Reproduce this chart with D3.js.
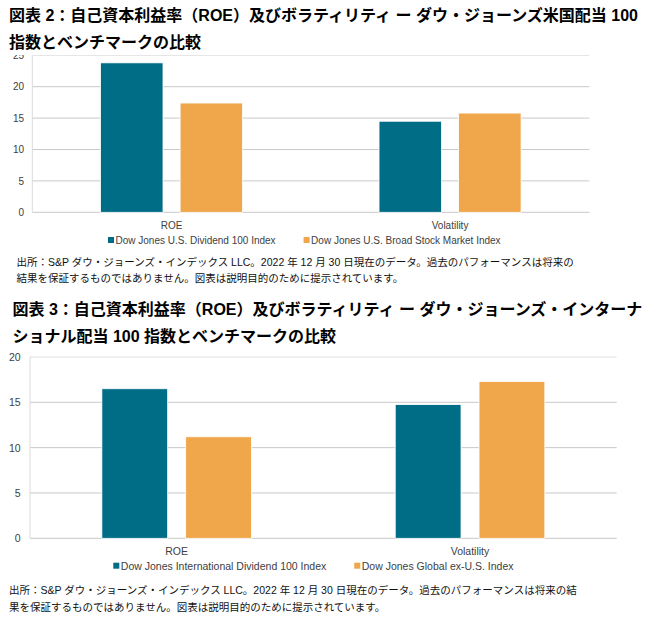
<!DOCTYPE html>
<html>
<head>
<meta charset="utf-8">
<script src="https://cdn.jsdelivr.net/npm/d3@7"></script>
<style>
  body { margin: 0; background: #fff; }
  text { font-family: "Liberation Sans", Arial, "Noto Sans CJK JP", sans-serif; }
  .ttl { font-weight: bold; font-size: 16px; fill: #000; }
  .note { font-size: 10.5px; fill: #111; }
</style>
</head>
<body>
<div id="chart"></div>
<script>
// Categories and series values
var categories = ["ROE", "Volatility"];

var usSeries = ["Dow Jones U.S. Dividend 100 Index", "Dow Jones U.S. Broad Stock Market Index"];
var usDividend = [23.8, 14.5];
var usBroad = [17.4, 15.8];
var usTicks = [0, 5, 10, 15, 20, 25];

var intlSeries = ["Dow Jones International Dividend 100 Index", "Dow Jones Global ex-U.S. Index"];
var intlDividend = [16.5, 14.75];
var globalExUS = [11.2, 17.3];
var intlTicks = [0, 5, 10, 15, 20];

var titles2 = ["図表 2：自己資本利益率（ROE）及びボラティリティ ー ダウ・ジョーンズ米国配当 100", "指数とベンチマークの比較"];
var notes2 = ["出所：S&P ダウ・ジョーンズ・インデックス LLC。2022 年 12 月 30 日現在のデータ。過去のパフォーマンスは将来の", "結果を保証するものではありません。図表は説明目的のために提示されています。"];
var titles3 = ["図表 3：自己資本利益率（ROE）及びボラティリティ ー ダウ・ジョーンズ・インターナ", "ショナル配当 100 指数とベンチマークの比較"];
var notes3 = ["出所：S&P ダウ・ジョーンズ・インデックス LLC。2022 年 12 月 30 日現在のデータ。過去のパフォーマンスは将来の結", "果を保証するものではありません。図表は説明目的のために提示されています。"];

var colors = ["#006d87", "#f0a64a"];

var svg = d3.select("#chart")
    .append("svg")
    .attr("width", 653)
    .attr("height", 628);

// Titles and notes
function textLines(lines, x, y0, step, cls) {
    svg.selectAll(null)
        .data(lines)
        .enter().append("text")
        .attr("class", cls)
        .attr("x", x)
        .attr("y", (d, i) => y0 + i * step)
        .attr("dominant-baseline", "central")
        .text(d => d);
}

textLines(titles2, 9, 15, 27.7, "ttl");
textLines(notes2, 16.5, 261.7, 16.6, "note");
textLines(titles3, 12.5, 309, 27.7, "ttl");
textLines(notes3, 9, 590, 16.6, "note");

// One grouped bar chart
function drawChart(cfg) {
    var g = svg.append("g");
    if (cfg.clipTop) {
        var id = "clip" + Math.round(cfg.top);
        svg.append("clipPath").attr("id", id)
            .append("rect")
            .attr("x", 0).attr("y", cfg.clipTop)
            .attr("width", 653).attr("height", cfg.bottom + 60 - cfg.clipTop);
        g.attr("clip-path", "url(#" + id + ")");
    }

    var y = d3.scaleLinear()
        .domain([0, d3.max(cfg.ticks)])
        .range([cfg.bottom, cfg.top]);

    var x0 = d3.scaleBand()
        .domain(categories)
        .range([cfg.left, cfg.right])
        .paddingInner(0.49)
        .paddingOuter(0.245);

    var x1 = d3.scaleBand()
        .domain([0, 1])
        .range([0, x0.bandwidth()])
        .paddingInner(0.215);

    // gridlines
    g.selectAll(".grid")
        .data(cfg.ticks)
        .enter().append("line")
        .attr("x1", cfg.left)
        .attr("x2", cfg.right)
        .attr("y1", d => y(d))
        .attr("y2", d => y(d))
        .attr("stroke", d => d === d3.max(cfg.ticks) ? "#e0e0e0" : "#c9c9c9")
        .attr("stroke-width", 1);

    // left axis line
    g.append("line")
        .attr("x1", cfg.left).attr("x2", cfg.left)
        .attr("y1", y(d3.max(cfg.ticks))).attr("y2", cfg.bottom)
        .attr("stroke", "#dadada");

    // y tick labels
    var yAxis = d3.axisLeft(y).tickValues(cfg.ticks).tickSize(0).tickPadding(cfg.tickPad);
    var ya = g.append("g")
        .attr("transform", "translate(" + cfg.left + ",0)")
        .call(yAxis);
    ya.select(".domain").remove();
    ya.selectAll("text")
        .attr("fill", "#404040")
        .style("font-size", cfg.font + "px")
        .style("font-family", '"Liberation Sans", Arial, sans-serif');

    // bars
    var rows = categories.map((c, i) => ({ cat: c, vals: [cfg.a[i], cfg.b[i]] }));
    g.selectAll(".grp")
        .data(rows)
        .enter().append("g")
        .attr("transform", d => "translate(" + x0(d.cat) + ",0)")
        .selectAll("rect")
        .data(d => d.vals)
        .enter().append("rect")
        .attr("x", (d, i) => x1(i))
        .attr("width", x1.bandwidth())
        .attr("y", d => y(d))
        .attr("height", d => cfg.bottom - y(d))
        .attr("fill", (d, i) => colors[i])
        .attr("stroke", "#ffffff")
        .attr("stroke-width", 0.8);

    // category labels
    g.selectAll(".cat")
        .data(categories)
        .enter().append("text")
        .attr("x", d => x0(d) + x0.bandwidth() / 2)
        .attr("y", cfg.catY)
        .attr("text-anchor", "middle")
        .attr("dominant-baseline", "central")
        .attr("fill", "#404040")
        .style("font-size", cfg.font + "px")
        .text(d => d);

    // legend
    var lx = cfg.legendX;
    cfg.series.forEach((name, i) => {
        g.append("rect")
            .attr("x", lx)
            .attr("y", cfg.legendY - 3)
            .attr("width", 6)
            .attr("height", 6)
            .attr("fill", colors[i]);
        var t = g.append("text")
            .attr("x", lx + 7.5)
            .attr("y", cfg.legendY)
            .attr("dominant-baseline", "central")
            .attr("fill", "#404040")
            .style("font-size", cfg.font + "px")
            .text(name);
        lx += 7.5 + t.node().getComputedTextLength() + 28;
    });
}

drawChart({
    left: 32.3, right: 589.3, top: 55.3, bottom: 212.3,
    ticks: usTicks, a: usDividend, b: usBroad, series: usSeries,
    font: 10, tickPad: 8.3, catY: 225, legendX: 108, legendY: 240,
    clipTop: 55
});

drawChart({
    left: 30, right: 616.7, top: 357, bottom: 538.3,
    ticks: intlTicks, a: intlDividend, b: globalExUS, series: intlSeries,
    font: 10.5, tickPad: 9.3, catY: 550.7, legendX: 113.3, legendY: 565.7
});
</script>
</body>
</html>
